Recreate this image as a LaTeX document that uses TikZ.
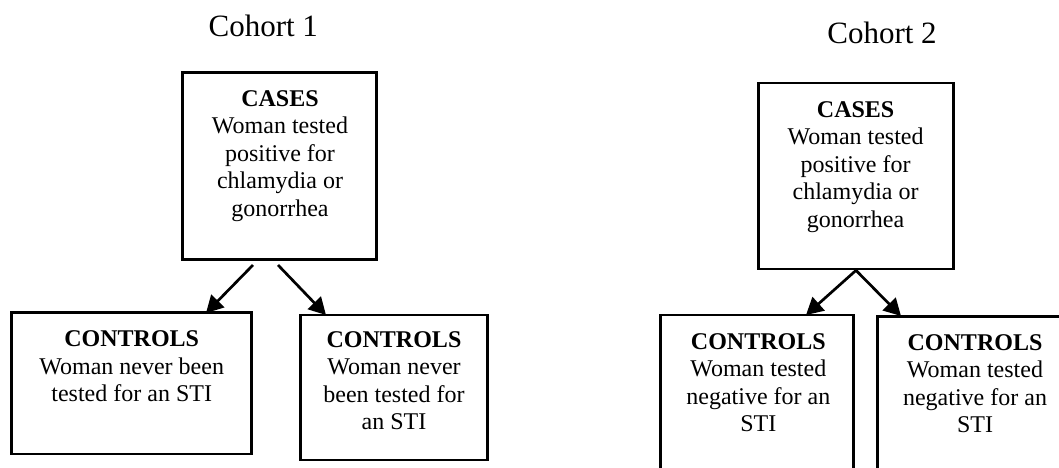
\documentclass[tikz,border=0pt]{standalone}
\usepackage{fontspec}
\setmainfont{Liberation Serif}
\usetikzlibrary{arrows.meta}
\begin{document}
\begin{tikzpicture}[x=1pt,y=-1pt,
  box/.style={draw, line width=2.7pt, inner sep=0pt, rectangle},
  txt/.style={anchor=north, inner sep=0pt, align=center, font=\fontsize{24}{27.5}\selectfont},
  ttl/.style={anchor=base, inner sep=0pt, font=\fontsize{31}{37}\selectfont},
  arr/.style={line width=2.7pt, -{Triangle[length=17pt,width=18pt]}}]
\useasboundingbox (0,0) rectangle (1059,467);
\clip (0,0) rectangle (1059,467);

% titles
\node[ttl] (t1) at (263.3,36.7) {Cohort 1};
\node[ttl] (t2) at (882,43.3) {Cohort 2};

% boxes, cohort 1
\node[box, minimum width=194pt, minimum height=186.6pt] (cases1) at (279.7,166) {};
\node[box, minimum width=240pt, minimum height=141.3pt] (ctrl1a) at (131.7,383.35) {};
\node[box, minimum width=187pt, minimum height=145pt] (ctrl1b) at (394,387.5) {};

% boxes, cohort 2
\node[box, minimum width=194.7pt, minimum height=186pt] (cases2) at (856,176) {};
\node[box, minimum width=192.8pt, minimum height=205pt] (ctrl2a) at (757.1,417.5) {};
\node[box, minimum width=197.7pt, minimum height=203.5pt] (ctrl2b) at (976.1,418.25) {};

% texts
\node[txt] (x1) at (280,90) {\textbf{CASES}\\Woman tested\\positive for\\chlamydia or\\gonorrhea};
\node[txt] (x2) at (131.7,330.7) {\textbf{CONTROLS}\\Woman never been\\tested for an STI};
\node[txt] (x3) at (394,331.3) {\textbf{CONTROLS}\\Woman never\\been tested for\\an STI};
\node[txt] (x4) at (855.6,101) {\textbf{CASES}\\Woman tested\\positive for\\chlamydia or\\gonorrhea};
\node[txt] (x5) at (758.3,333.3) {\textbf{CONTROLS}\\Woman tested\\negative for an\\STI};
\node[txt] (x6) at (975,334) {\textbf{CONTROLS}\\Woman tested\\negative for an\\STI};

% connectors
\coordinate (s1l) at (253,265);
\coordinate (e1l) at (206,313);
\coordinate (s1r) at (278,265);
\coordinate (e1r) at (326,315);
\coordinate (e2l) at (806,315);
\coordinate (e2r) at (901,316);
\draw[arr] (s1l) -- (e1l);
\draw[arr] (s1r) -- (e1r);
\draw[arr] (cases2.south) -- (e2l);
\draw[arr] (cases2.south) -- (e2r);
\end{tikzpicture}
\end{document}
